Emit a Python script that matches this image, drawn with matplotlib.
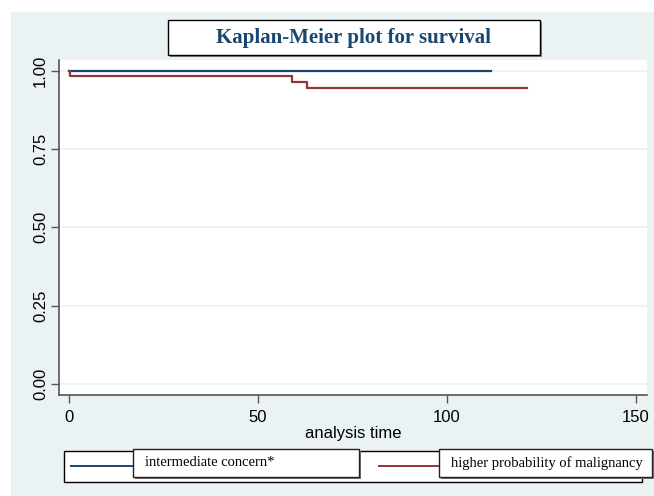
import matplotlib
matplotlib.use("Agg")
import matplotlib.pyplot as plt
from matplotlib.patches import Rectangle
from matplotlib.lines import Line2D

# survival curves (analysis time, survival)
grp_names = ["intermediate concern*", "higher probability of malignancy"]
blue_t = [0, 111.6]
blue_s = [1.0, 1.0]
red_t = [0, 0.3, 59.1, 62.9, 121.2]
red_s = [1.0, 0.984, 0.965, 0.946, 0.946]
xticks = [0, 50, 100, 150]
yticks = [0.0, 0.25, 0.5, 0.75, 1.0]
ytick_labels = ["0.00", "0.25", "0.50", "0.75", "1.00"]
title = "Kaplan-Meier plot for survival"
xlabel = "analysis time"

W, H = 654, 496
bg = "#eaf2f3"
navy = "#1a476f"
maroon = "#90353b"
colors = [navy, maroon]

def fx(px):
    return px / W

def fy(py):
    return 1 - py / H

fig = plt.figure(figsize=(W / 100, H / 100), dpi=100)
fig.patch.set_facecolor("white")
# stata-style light blue graph region
fig.add_artist(Rectangle((fx(11), 0), 1 - fx(11), fy(12), transform=fig.transFigure,
                         facecolor=bg, edgecolor="none", zorder=0))

ax = fig.add_axes([fx(59), fy(394.5), fx(647) - fx(59), fy(60) - fy(394.5)])
ax.set_facecolor("white")
ax.set_xlim(-2.65, 152.9)
ax.set_ylim(-0.034, 1.034)

for y in yticks:
    ax.axhline(y, color=bg, lw=1.2, zorder=1)

ax.step(blue_t, blue_s, where="post", color=colors[0], lw=1.6, zorder=3)
ax.step(red_t, red_s, where="post", color=colors[1], lw=1.6, zorder=3)

for s in ["top", "right"]:
    ax.spines[s].set_visible(False)
for s in ["left", "bottom"]:
    ax.spines[s].set_color("#555555")
    ax.spines[s].set_linewidth(1.2)

ax.set_xticks(xticks)
ax.set_xticklabels([str(x) for x in xticks], fontfamily="Liberation Sans", fontsize=12)
ax.set_yticks(yticks)
ax.set_yticklabels(ytick_labels, fontfamily="Liberation Sans", fontsize=12,
                   rotation=90, va="center")
ax.tick_params(axis="both", direction="out", length=6, width=1, color="#555555")
ax.tick_params(axis="x", pad=5)
ax.tick_params(axis="y", pad=2)
ax.set_xlabel(xlabel, fontfamily="Liberation Sans", fontsize=12, labelpad=1)

# title box
fig.add_artist(Rectangle((fx(169.5), fy(56.5)), fx(372), fy(20) - fy(55), transform=fig.transFigure,
                         facecolor="#888888", edgecolor="none", zorder=4))
fig.add_artist(Rectangle((fx(168), fy(55)), fx(372), fy(20) - fy(55), transform=fig.transFigure,
                         facecolor="white", edgecolor="black", lw=1, zorder=5))
fig.text(fx(354), fy(38), title, ha="center", va="center", fontfamily="Liberation Serif",
         fontweight="bold", fontsize=15, color=navy, zorder=6)

# legend
fig.add_artist(Rectangle((fx(64), fy(482)), fx(642 - 64), fy(451) - fy(482), transform=fig.transFigure,
                         facecolor="white", edgecolor="black", lw=1, zorder=4))
line_x = [(71, 133), (379, 439)]
box_x = [(133, 359), (439, 652)]
for i in range(2):
    fig.add_artist(Line2D([fx(line_x[i][0]), fx(line_x[i][1])], [fy(466), fy(466)],
                          transform=fig.transFigure, color=colors[i], lw=1.4, zorder=5))
    x0, x1 = box_x[i]
    fig.add_artist(Rectangle((fx(x0 + 1.5), fy(478.5)), fx(x1 - x0), fy(449) - fy(477),
                             transform=fig.transFigure, facecolor="#777777", edgecolor="none", zorder=5))
    fig.add_artist(Rectangle((fx(x0), fy(477)), fx(x1 - x0), fy(449) - fy(477),
                             transform=fig.transFigure, facecolor="white", edgecolor="#222222",
                             lw=1, zorder=6))
    fig.text(fx(x0 + 12), fy(463), grp_names[i], ha="left", va="center",
             fontfamily="Liberation Serif", fontsize=10.5, zorder=7)

fig.savefig("out.png", dpi=100)
